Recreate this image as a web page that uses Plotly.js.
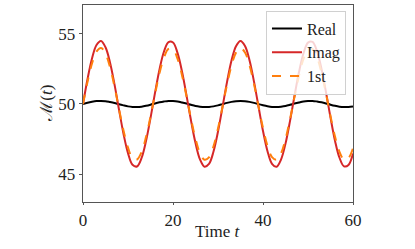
<!DOCTYPE html>
<html><head><meta charset="utf-8">
<script src="https://cdn.plot.ly/plotly-3.0.1.min.js"></script>
<style>body{margin:0;padding:0;background:#fff}#c{width:415px;height:249px}</style>
</head><body><div id="c"></div>
<script>
const t = [0,1,2,3,4,5,6,7,8,9,10,11,12,13,14,15,16,17,18,19,20,21,22,23,24,25,26,27,28,29,30,31,32,33,34,35,36,37,38,39,40,41,42,43,44,45,46,47,48,49,50,51,52,53,54,55,56,57,58,59,60];
const realVals = [50.00,50.09,50.16,50.21,50.22,50.20,50.14,50.07,49.98,49.90,49.83,49.79,49.78,49.81,49.87,49.95,50.04,50.12,50.18,50.22,50.21,50.18,50.11,50.03,49.94,49.86,49.81,49.78,49.79,49.83,49.90,49.99,50.08,50.15,50.20,50.22,50.20,50.15,50.08,49.99,49.91,49.84,49.79,49.78,49.81,49.86,49.94,50.03,50.11,50.18,50.21,50.22,50.18,50.12,50.04,49.95,49.87,49.81,49.78,49.79,49.83];
const imagVals = [50.00,51.77,53.25,54.21,54.50,54.05,52.97,51.40,49.60,47.87,46.49,45.66,45.54,46.13,47.35,48.99,50.79,52.47,53.75,54.42,54.39,53.65,52.32,50.62,48.82,47.21,46.04,45.52,45.72,46.60,48.03,49.78,51.56,53.10,54.13,54.50,54.14,53.13,51.60,49.82,48.07,46.63,45.73,45.52,46.03,47.17,48.78,50.58,52.28,53.62,54.38,54.43,53.77,52.51,50.84,49.03,47.38,46.16,45.55,45.65,46.46];
const firstVals = [50.00,51.57,52.89,53.74,54.00,53.60,52.64,51.24,49.64,48.11,46.88,46.14,46.04,46.56,47.64,49.10,50.70,52.20,53.33,53.93,53.90,53.24,52.06,50.55,48.95,47.52,46.48,46.02,46.19,46.98,48.25,49.80,51.39,52.75,53.67,54.00,53.68,52.78,51.42,49.84,48.28,47.00,46.20,46.02,46.47,47.49,48.91,50.51,52.03,53.22,53.89,53.94,53.35,52.23,50.74,49.14,47.67,46.58,46.04,46.14,46.85];
const seriesNames = ["Real","Imag","1st"];
const xTicks = [0,20,40,60];
const yTicks = [45,50,55];
const xTitle = "Time <i>t</i>";
const yTitle = "<span style=\"font-family:DejaVu Serif\">ℳ</span>(<i>t</i>)";

const fam = "Liberation Serif, DejaVu Serif, serif";
const traces = [
  {x: t, y: realVals, name: seriesNames[0], mode: "lines", line: {color: "#000000", width: 2, shape: "spline"}},
  {x: t, y: imagVals, name: seriesNames[1], mode: "lines", line: {color: "#d62728", width: 2, shape: "spline"}},
  {x: t, y: firstVals, name: seriesNames[2], mode: "lines", line: {color: "#ff7f0e", width: 2, dash: "dash", shape: "spline"}}
];
const layout = {
  width: 415, height: 249,
  margin: {l: 83, r: 62, t: 5, b: 47},
  paper_bgcolor: "#fff", plot_bgcolor: "#fff",
  font: {family: fam, size: 17, color: "#222"},
  showlegend: true,
  legend: {x: 0.974, xanchor: "right", y: 0.972, yanchor: "top", bgcolor: "rgba(255,255,255,0.8)", bordercolor: "#d0d0d0", borderwidth: 1, font: {family: fam, size: 16, color: "#222"}, tracegroupgap: 0},
  xaxis: {range: [0, 60], tickvals: xTicks, ticktext: xTicks.map(String), ticks: "outside", ticklen: 2, tickcolor: "#555", showline: true, linecolor: "#555", linewidth: 1.3, mirror: true, showgrid: false, zeroline: false},
  yaxis: {range: [43, 57.07], tickvals: yTicks, ticktext: yTicks.map(String), ticks: "outside", ticklen: 3, tickcolor: "#555", showline: true, linecolor: "#555", linewidth: 1.3, mirror: true, showgrid: false, zeroline: false},
  annotations: [
    {text: xTitle, xref: "paper", yref: "paper", x: 0.5, y: -0.152, xanchor: "center", yanchor: "middle", showarrow: false, font: {family: fam, size: 17, color: "#222"}},
    {text: yTitle, xref: "paper", yref: "paper", x: -0.138, y: 0.503, xanchor: "center", yanchor: "middle", textangle: -90, showarrow: false, font: {family: fam, size: 17, color: "#222"}}
  ]
};
Plotly.newPlot("c", traces, layout, {staticPlot: true, displayModeBar: false});
</script></body></html>
